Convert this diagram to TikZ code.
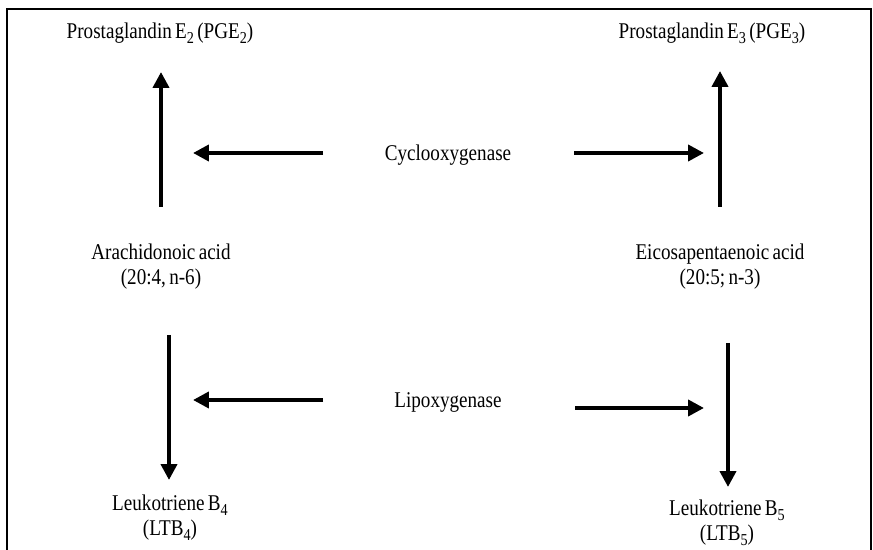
\documentclass[tikz,border=0pt]{standalone}
\usepackage{fontspec}
\setmainfont[FakeStretch=0.85,WordSpace=0.7]{Liberation Serif}
\usetikzlibrary{arrows.meta}
\newcommand{\lowsub}[1]{\raisebox{-0.45ex}{\fontsize{9.5}{10}\selectfont #1}}
\tikzset{
  label/.style={align=center,inner sep=0pt,font=\fontsize{12.8}{14.2}\selectfont},
  flow/.style={line width=2.2pt,-{Triangle[length=9pt,width=9pt]}}
}
\begin{document}
\begin{tikzpicture}[x=0.02cm,y=-0.02cm]
      \useasboundingbox (0,0) rectangle (873,550);
      \draw[line width=1pt] (7,550) -- (7,9) -- (871,9) -- (871,550);
      \draw
        (160,33) node[label] (pge2){Prostaglandin E\lowsub{2} (PGE\lowsub{2})}
        (712,33) node[label] (pge3){Prostaglandin E\lowsub{3} (PGE\lowsub{3})}
        (448,155) node[label] (cox){Cyclooxygenase}
        (448,402) node[label] (lox){Lipoxygenase}
        (161,267) node[label] (aa){Arachidonoic acid\\(20:4,\ n-6)}
        (720,267) node[label] (epa){Eicosapentaenoic acid\\(20:5;\ n-3)}
        (170,518) node[label] (ltb4){Leukotriene B\lowsub{4}\\(LTB\lowsub{4})}
        (727,523) node[label] (ltb5){Leukotriene B\lowsub{5}\\(LTB\lowsub{5})};
      \draw
        (161,207) coordinate (aaup) (161,72) coordinate (pge2in)
        (720,207) coordinate (epaup) (720,71) coordinate (pge3in)
        (169,335) coordinate (aadown) (169,480) coordinate (ltb4in)
        (728,343) coordinate (epadown) (728,487) coordinate (ltb5in)
        (323,153) coordinate (coxl) (193,153) coordinate (coxlin)
        (574,153) coordinate (coxr) (704,153) coordinate (coxrin)
        (323,400) coordinate (loxl) (193,400) coordinate (loxlin)
        (575,408) coordinate (loxr) (704,408) coordinate (loxrin);
      \begin{scope}[flow]
        \draw (aaup) to (pge2in);
        \draw (epaup) to (pge3in);
        \draw (aadown) to (ltb4in);
        \draw (epadown) to (ltb5in);
        \draw (coxl) to (coxlin);
        \draw (coxr) to (coxrin);
        \draw (loxl) to (loxlin);
        \draw (loxr) to (loxrin);
      \end{scope}
    \end{tikzpicture}
\end{document}
